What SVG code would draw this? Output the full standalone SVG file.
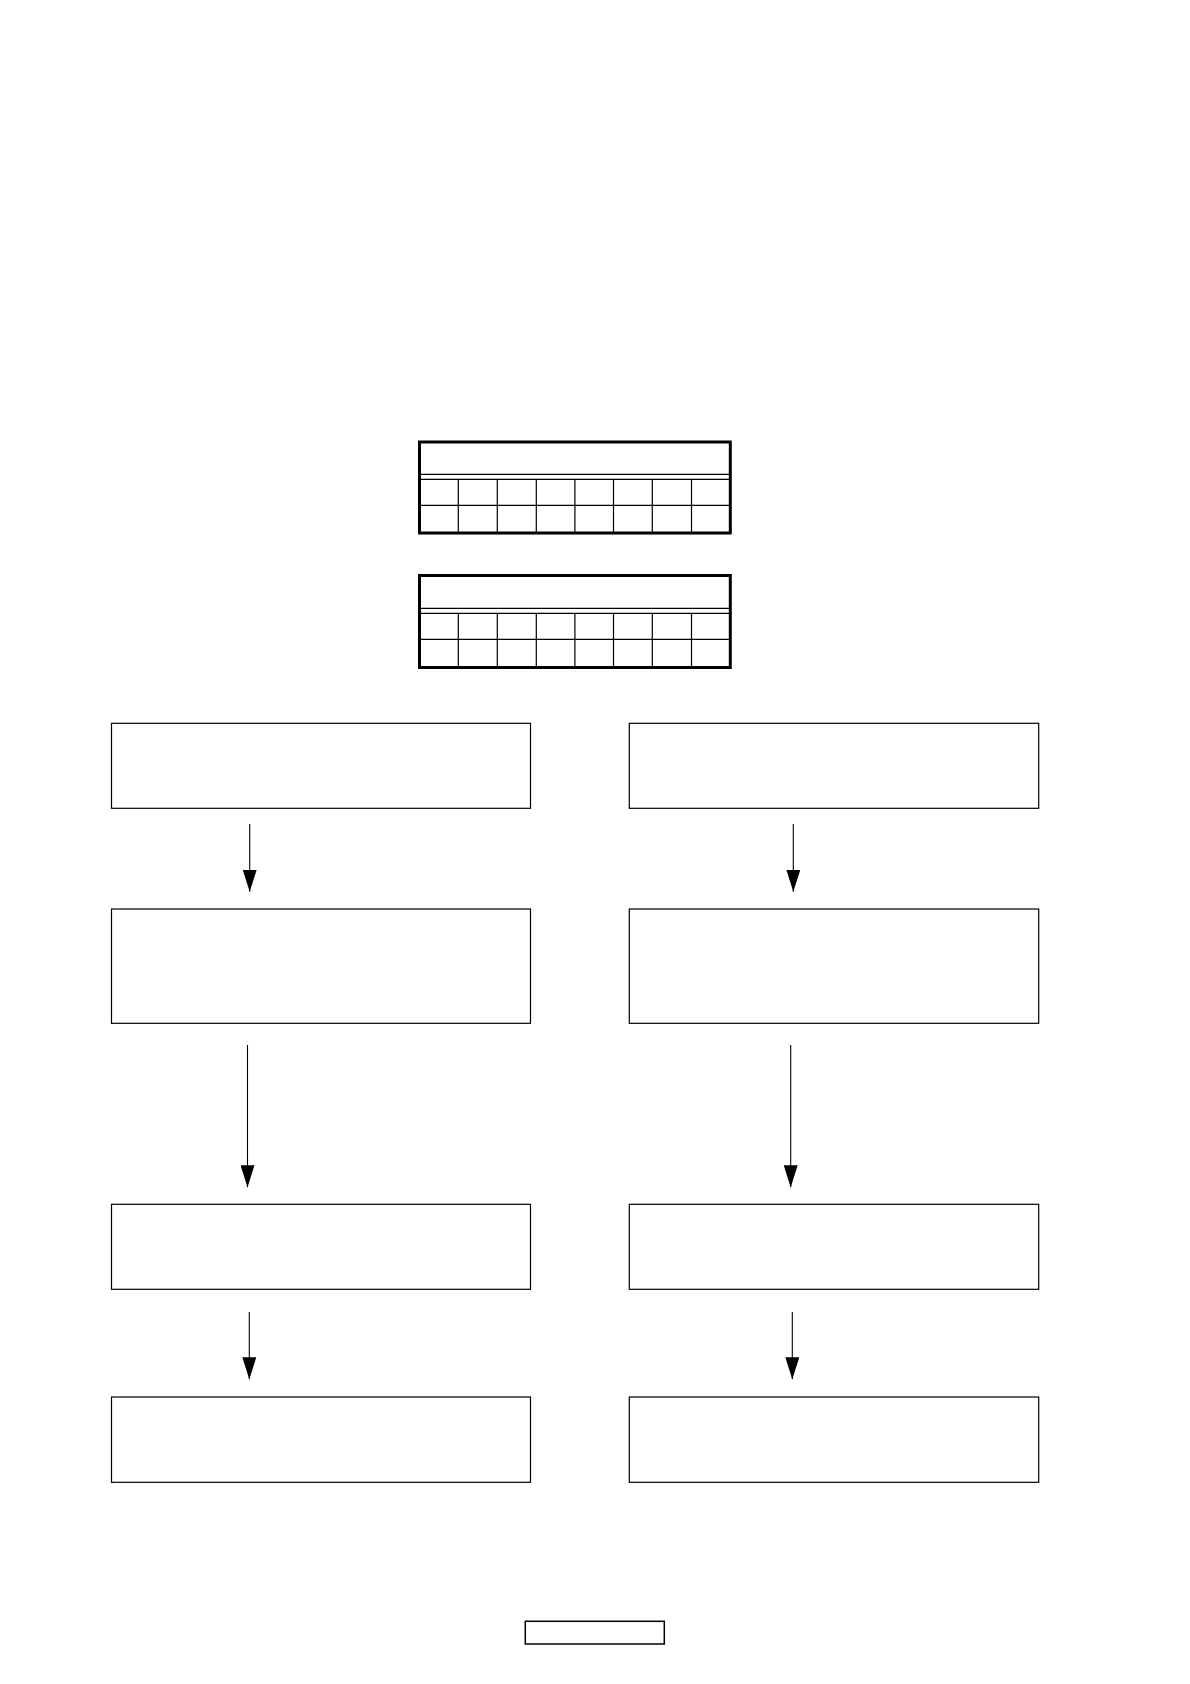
<svg xmlns="http://www.w3.org/2000/svg" width="1190" height="1684" viewBox="0 0 1190 1684">
<style>
.bg{fill:#ffffff}
.frame{fill:none;stroke:#000;stroke-width:3}
.grid{fill:none;stroke:#000;stroke-width:1.2}
.box{fill:#ffffff;stroke:#000;stroke-width:1.2}
.conn{fill:none;stroke:#000;stroke-width:1.1}
.tag{fill:none;stroke:#000;stroke-width:1.5}
</style>
<defs>
<marker id="arr" viewBox="0 0 22 14" refX="22" refY="7" markerWidth="22" markerHeight="14" markerUnits="userSpaceOnUse" orient="auto">
<path d="M0,0 L22,7 L0,14 z" fill="#000"/>
</marker>
<g id="tableShape">
<line class="grid" x1="420.5" y1="0" x2="729" y2="0"/>
<line class="grid" x1="420.5" y1="5" x2="729" y2="5"/>
<line class="grid" x1="420.5" y1="31" x2="729" y2="31"/>
<line class="grid" x1="458.3" y1="5" x2="458.3" y2="58"/>
<line class="grid" x1="497.3" y1="5" x2="497.3" y2="58"/>
<line class="grid" x1="536.3" y1="5" x2="536.3" y2="58"/>
<line class="grid" x1="574.9" y1="5" x2="574.9" y2="58"/>
<line class="grid" x1="613.5" y1="5" x2="613.5" y2="58"/>
<line class="grid" x1="652.3" y1="5" x2="652.3" y2="58"/>
<line class="grid" x1="691.5" y1="5" x2="691.5" y2="58"/>
</g>
</defs>
<rect class="bg" x="0" y="0" width="1190" height="1684"/>

<g id="table1">
<rect class="frame" x="419.5" y="442" width="310.8" height="91"/>
<use href="#tableShape" transform="translate(0,474.3)"/>
</g>
<g id="table2">
<rect class="frame" x="419.5" y="575.5" width="310.8" height="92"/>
<use href="#tableShape" transform="translate(0,608.3)"/>
</g>

<g id="connectors">
<line class="conn" x1="249.7" y1="824" x2="249.7" y2="891.7" marker-end="url(#arr)"/>
<line class="conn" x1="793.3" y1="824" x2="793.3" y2="891.7" marker-end="url(#arr)"/>
<line class="conn" x1="247.5" y1="1045" x2="247.5" y2="1187.3" marker-end="url(#arr)"/>
<line class="conn" x1="790.7" y1="1045" x2="790.7" y2="1187.3" marker-end="url(#arr)"/>
<line class="conn" x1="249.3" y1="1312" x2="249.3" y2="1379.3" marker-end="url(#arr)"/>
<line class="conn" x1="792.3" y1="1312" x2="792.3" y2="1379.3" marker-end="url(#arr)"/>
</g>

<g id="nodeL1"><rect class="box" x="111.5" y="723.3" width="419" height="85"/></g>
<g id="nodeR1"><rect class="box" x="629.3" y="723.3" width="409.4" height="85"/></g>
<g id="nodeL2"><rect class="box" x="111.5" y="909" width="419" height="114.3"/></g>
<g id="nodeR2"><rect class="box" x="629.3" y="909" width="409.4" height="114.3"/></g>
<g id="nodeL3"><rect class="box" x="111.5" y="1204.3" width="419" height="85"/></g>
<g id="nodeR3"><rect class="box" x="629.3" y="1204.3" width="409.4" height="85"/></g>
<g id="nodeL4"><rect class="box" x="111.5" y="1397" width="419" height="85.3"/></g>
<g id="nodeR4"><rect class="box" x="629.3" y="1397" width="409.4" height="85.3"/></g>

<g id="pageTag"><rect class="tag" x="525.3" y="1621.3" width="139" height="22.7"/></g>
</svg>
